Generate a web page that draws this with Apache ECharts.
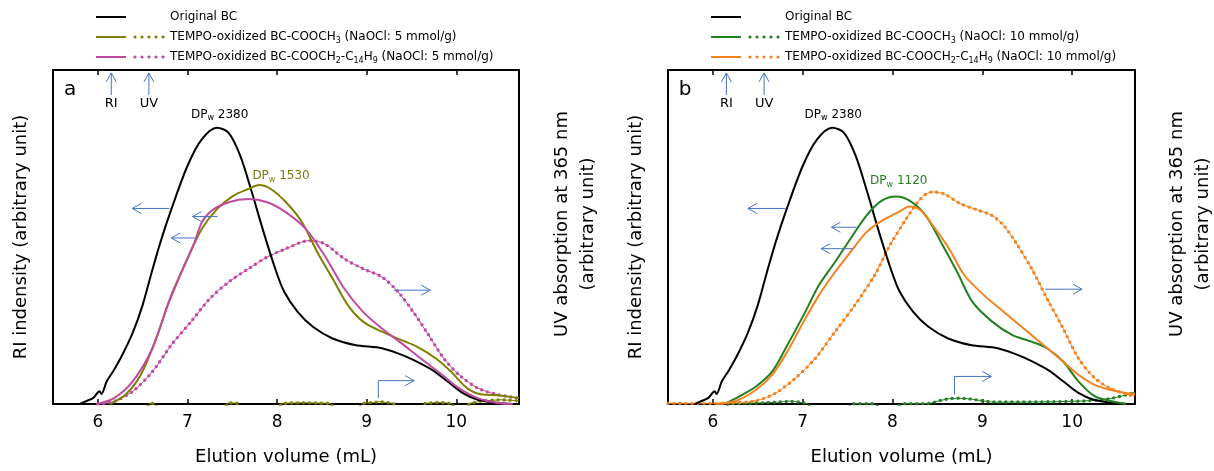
<!DOCTYPE html>
<html><head><meta charset="utf-8">
<script src="https://cdn.jsdelivr.net/npm/echarts@6/dist/echarts.min.js"></script>
<style>html,body{margin:0;padding:0;background:#fff}#c{width:1214px;height:471px}</style>
</head><body><div id="c"></div>
<script>
// ---------- DATA (x = elution volume mL, y = arbitrary intensity) ----------
const xMin = 5.5, xMax = 10.7, yMax = 103;
const origBC = [[5.80,0],[5.88,1.0],[5.95,1.9],[6.02,3.9],[6.04,3.1],[6.10,7.0],[6.18,10.5],[6.28,15.5],[6.39,22],[6.5,30.5],[6.6,40.5],[6.7,50],[6.82,60],[7.0,73.4],[7.16,81.6],[7.33,85.2],[7.46,83.6],[7.59,76.5],[7.72,65.2],[7.85,53],[7.98,41.7],[8.08,34.6],[8.23,28.4],[8.4,23.8],[8.62,20.2],[8.87,18.2],[9.17,17.2],[9.35,15.6],[9.52,13.6],[9.73,10.5],[9.9,7.0],[10.07,3.4],[10.24,1.3],[10.46,0.3],[10.63,0]];
// panel a (NaOCl 5 mmol/g)
const riMe5 = [[6.14,0],[6.31,2.9],[6.48,9],[6.65,20.2],[6.82,33.5],[7.0,44.8],[7.16,54],[7.33,60.1],[7.51,64.2],[7.68,66.3],[7.8,67.5],[7.93,66.3],[8.1,62.2],[8.28,56],[8.45,46.8],[8.62,38.7],[8.79,30.5],[8.96,25.4],[9.17,22.3],[9.39,19.7],[9.56,17.7],[9.77,14.1],[9.94,10],[10.12,4.9],[10.29,2.9],[10.46,2.7],[10.7,1.8]];
const riC14_5 = [[5.99,0],[6.18,1.8],[6.39,7],[6.61,17.2],[6.78,30.5],[6.95,41.7],[7.08,49.9],[7.16,56],[7.27,59.6],[7.46,62.2],[7.68,63.2],[7.89,62.2],[8.1,59.1],[8.32,54],[8.53,45.8],[8.75,35.6],[8.96,28.4],[9.17,23.3],[9.39,18.7],[9.6,14.1],[9.82,9.5],[10.03,4.9],[10.24,1.8],[10.46,0.3],[10.63,0]];
const uvC14_5 = [[6.0,0],[6.18,0.8],[6.39,3.9],[6.61,10],[6.82,18.2],[7.04,25.4],[7.25,32.5],[7.46,37.6],[7.68,41.7],[7.89,45.3],[8.1,47.9],[8.36,50.4],[8.53,49.4],[8.75,44.8],[8.96,41.7],[9.17,39.2],[9.35,34.6],[9.52,28.4],[9.69,21.3],[9.86,14.1],[10.03,9],[10.24,4.9],[10.46,2.9],[10.7,1.8]];
const uvMe5 = [[5.5,-1.2],[6.55,-1.2],[6.58,0.2],[6.63,0.2],[6.66,-1.2],[7.42,-1.2],[7.45,0.3],[7.55,0.3],[7.58,-1.2],[8.02,-1.2],[8.05,0.2],[8.3,0.4],[8.6,0.2],[8.63,-1.2],[8.92,-1.2],[8.95,0.2],[9.15,0.7],[9.3,0.2],[9.33,-1.2],[9.62,-1.2],[9.65,0.2],[9.8,0.5],[9.95,0.2],[9.98,-1.2],[10.1,-1.2],[10.15,0.2],[10.3,1.0],[10.5,1.3],[10.7,1.0]];
// panel b (NaOCl 10 mmol/g)
const riMe10 = [[6.13,0],[6.26,1.8],[6.35,3.2],[6.48,5.4],[6.66,10],[6.83,18.2],[7.01,27.4],[7.18,36.6],[7.36,43.8],[7.53,50.9],[7.71,58.1],[7.88,62.7],[8.04,64],[8.19,62.7],[8.37,58.1],[8.54,49.9],[8.72,40.7],[8.89,31.5],[9.11,25.4],[9.33,21.3],[9.55,19.2],[9.72,17.2],[9.9,13.1],[10.07,7],[10.25,2.4],[10.42,1],[10.6,0]];
const riC14_10 = [[6.04,0],[6.26,1],[6.48,4.4],[6.66,9],[6.83,16.2],[7.01,25.4],[7.18,33.5],[7.36,40.7],[7.53,46.8],[7.71,53],[7.88,56.5],[8.06,59.1],[8.19,60.9],[8.32,59.6],[8.45,55],[8.63,47.9],[8.8,39.7],[9.02,33.5],[9.24,28.4],[9.46,23.3],[9.68,18.2],[9.9,13.1],[10.07,9],[10.25,5.9],[10.42,4.4],[10.6,3.4],[10.7,3.1]];
const uvC14_10 = [[5.5,0.2],[5.8,0.2],[6.0,0.2],[6.18,0.3],[6.48,1],[6.7,3.4],[6.92,8],[7.14,14.1],[7.36,22.3],[7.58,30.5],[7.8,39.7],[7.97,48.9],[8.15,57],[8.28,62.2],[8.37,64.7],[8.45,65.4],[8.58,64.7],[8.76,61.7],[8.94,59.9],[9.11,58.1],[9.24,55],[9.37,49.9],[9.55,41.7],[9.72,32.5],[9.9,23.3],[10.07,14.1],[10.25,8],[10.42,4.9],[10.6,3.1],[10.7,2.4]];
const uvMe10 = [[5.5,-1.2],[6.15,-1.2],[6.2,0.1],[6.5,0.3],[6.75,0.6],[6.85,0.9],[6.95,0.6],[7.05,0.1],[7.1,-1.2],[7.52,-1.2],[7.55,0.1],[7.8,0.1],[7.85,-1.2],[8.05,-1.2],[8.1,0.1],[8.3,0.1],[8.42,0.2],[8.52,1.0],[8.62,1.6],[8.72,1.8],[8.85,1.6],[9.0,1.0],[9.1,0.6],[9.4,0.6],[9.8,0.7],[10.1,0.9],[10.3,1.2],[10.45,1.8],[10.6,2.8],[10.7,3.6]];
// annotations (data coordinates)
const arrowsA = [[[6.80,60.3],[6.385,60.3]],[[7.335,57.8],[7.057,57.8]],[[7.10,51.2],[6.82,51.2]],[[9.30,35.1],[9.71,35.1]],[[9.13,1.8],[9.13,7.2],[9.53,7.2]]];
const arrowsB = [[[6.81,60.3],[6.39,60.3]],[[7.60,54.5],[7.32,54.5]],[[7.555,47.9],[7.205,47.9]],[[9.70,35.4],[10.11,35.4]],[[8.69,2.9],[8.69,8.5],[9.10,8.5]]];
const detArrows = [{label:'RI', x:6.15},{label:'UV', x:6.57}];
const dpA = [{t:'2380', x:7.36, y:89.2, c:'#000'},{t:'1530', x:8.045, y:70.2, c:'#7a7a10'}];
const dpB = [{t:'2380', x:7.34, y:89.2, c:'#000'},{t:'1120', x:8.07, y:68.7, c:'#228022'}];

// ---------- STYLE ----------
const FONT = 'DejaVu Sans';
const C = {black:'#000', olive:'#808000', mag:'#c04aa0', green:'#228022', orange:'#f5821f', blue:'#4472c4'};
const grids = [{left:53, top:70, width:466, height:336, show:true, borderColor:'#000', borderWidth:2},
               {left:668, top:70, width:467, height:336, show:true, borderColor:'#000', borderWidth:2}];

function xAx(g, pos){
  const bottom = pos === 'bottom';
  return {type:'value', gridIndex:g, position:pos, min:xMin, max:xMax, minInterval:1, maxInterval:1,
    axisLine:{show:false}, splitLine:{show:false},
    axisTick:{show:true, inside:true, length:5, lineStyle:{color:'#000', width:1.5}},
    axisLabel:{show:bottom, showMinLabel:false, showMaxLabel:false, fontSize:17, color:'#000', fontFamily:FONT, margin:10},
    name: bottom ? 'Elution volume (mL)' : '', nameLocation:'middle', nameGap:44,
    nameTextStyle:{fontSize:18, color:'#000', fontFamily:FONT}};
}
function yAx(g){
  return {type:'value', gridIndex:g, min:0, max:yMax, axisLine:{show:false}, axisTick:{show:false},
    axisLabel:{show:false}, splitLine:{show:false},
    name:'RI indensity (arbitrary unit)', nameLocation:'middle', nameGap:23, nameRotate:90,
    nameTextStyle:{fontSize:18, color:'#000', fontFamily:FONT}};
}
function solid(name, data, color, g, w){
  return {name, type:'line', data, xAxisIndex:g, yAxisIndex:g, symbol:'none', smooth:0.3,
    lineStyle:{color, width:w||2}, z:3, silent:true};
}
function dotted(name, data, color, g, smooth){
  return [
    {name, type:'line', data, xAxisIndex:g, yAxisIndex:g, symbol:'none', smooth:smooth,
      lineStyle:{color, width:1}, z:2, silent:true},
    {name:name+' dots', type:'line', data, xAxisIndex:g, yAxisIndex:g, symbol:'none', smooth:smooth,
      lineStyle:{color, width:3.4, type:[0,6], cap:'round'}, z:2, silent:true}
  ];
}

const series = [
  solid('Original BC', origBC, C.black, 0),
  ...dotted('UV BC-COOCH3 5', uvMe5, C.olive, 0, false),
  ...dotted('UV BC-COOCH2-C14H9 5', uvC14_5, C.mag, 0, 0.3),
  solid('RI BC-COOCH3 5', riMe5, C.olive, 0),
  solid('RI BC-COOCH2-C14H9 5', riC14_5, C.mag, 0),
  solid('Original BC b', origBC, C.black, 1),
  ...dotted('UV BC-COOCH3 10', uvMe10, C.green, 1, false),
  ...dotted('UV BC-COOCH2-C14H9 10', uvC14_10, C.orange, 1, 0.3),
  solid('RI BC-COOCH3 10', riMe10, C.green, 1),
  solid('RI BC-COOCH2-C14H9 10', riC14_10, C.orange, 1)
];

const chart = echarts.init(document.getElementById('c'), null, {renderer:'canvas'});
chart.setOption({
  animation:false, backgroundColor:'#fff',
  grid: grids,
  xAxis: [xAx(0,'bottom'), xAx(1,'bottom'), xAx(0,'top'), xAx(1,'top')],
  yAxis: [yAx(0), yAx(1)],
  series
});

// ---------- GRAPHICS (legend, annotations, right titles) ----------
const g = [];
const subRich = {s:{fontSize:8, fontFamily:FONT, padding:[7,0,0,0], verticalAlign:'bottom'}};
function txt(x, y, text, opt){
  g.push({type:'text', x, y, z:10, style:Object.assign({text, fill:'#000', fontFamily:FONT, fontSize:12,
    align:'left', verticalAlign:'middle', rich:subRich}, opt||{})});
}
function seg(x1,y1,x2,y2,color,w,dash){
  const st = {stroke:color, lineWidth:w};
  if (dash){ st.lineDash = dash; st.lineCap = 'round'; }
  g.push({type:'line', z:10, shape:{x1,y1,x2,y2}, style:st});
}
function legend(x0, rows){
  rows.forEach((r,i)=>{
    const y = 17 + i*20;
    seg(x0, y, x0+30, y, r.c, 2);
    if (r.dots) seg(x0+39, y, x0+68, y, r.c, 3.2, [0,7]);
    txt(x0+74, y, r.t);
  });
}
legend(96, [
  {t:'Original BC', c:C.black},
  {t:'TEMPO-oxidized BC-COOCH{s|3} (NaOCl: 5 mmol/g)', c:C.olive, dots:true},
  {t:'TEMPO-oxidized BC-COOCH{s|2}-C{s|14}H{s|9} (NaOCl: 5 mmol/g)', c:C.mag, dots:true}
]);
legend(711, [
  {t:'Original BC', c:C.black},
  {t:'TEMPO-oxidized BC-COOCH{s|3} (NaOCl: 10 mmol/g)', c:C.green, dots:true},
  {t:'TEMPO-oxidized BC-COOCH{s|2}-C{s|14}H{s|9} (NaOCl: 10 mmol/g)', c:C.orange, dots:true}
]);

function arrowPath(pts, gi){
  const px = pts.map(p => chart.convertToPixel({gridIndex:gi}, p));
  g.push({type:'polyline', z:10, shape:{points:px}, style:{stroke:C.blue, lineWidth:1, fill:null}});
  const a = px[px.length-1], b = px[px.length-2];
  const ang = Math.atan2(a[1]-b[1], a[0]-b[0]);
  const L = 9, H = 5;
  const ux = Math.cos(ang), uy = Math.sin(ang);
  const p1 = [a[0]-ux*L - uy*H, a[1]-uy*L + ux*H];
  const p2 = [a[0]-ux*L + uy*H, a[1]-uy*L - ux*H];
  g.push({type:'polyline', z:10, shape:{points:[p1, a, p2]}, style:{stroke:C.blue, lineWidth:1, fill:null}});
}
[arrowsA, arrowsB].forEach((arr, gi)=> arr.forEach(p => arrowPath(p, gi)));
[0,1].forEach(gi=>{
  detArrows.forEach(d=>{
    arrowPath([[d.x, 95.3],[d.x, 102.1]], gi);
    const p = chart.convertToPixel({gridIndex:gi}, [d.x, 92.6]);
    txt(p[0], p[1], d.label, {align:'center', fontSize:13});
  });
  const pl = chart.convertToPixel({gridIndex:gi}, [5.69, 96.9]);
  txt(pl[0], pl[1], gi===0 ? 'a' : 'b', {align:'center', fontSize:20});
  (gi===0 ? dpA : dpB).forEach(d=>{
    const p = chart.convertToPixel({gridIndex:gi}, [d.x, d.y]);
    txt(p[0], p[1], 'DP{s|w} ' + d.t, {align:'center', fill:d.c, fontSize:12,
      rich:{s:{fontSize:8, fontFamily:FONT, fill:d.c, padding:[7,0,0,0], verticalAlign:'bottom'}}});
  });
  const xr = gi===0 ? 562 : 1177;
  g.push({type:'text', x:xr, y:224, rotation:Math.PI/2, z:10,
    style:{text:'UV absorption at 365 nm', fill:'#000', fontFamily:FONT, fontSize:18, align:'center', verticalAlign:'middle'}});
  g.push({type:'text', x:xr+26, y:224, rotation:Math.PI/2, z:10,
    style:{text:'(arbitrary unit)', fill:'#000', fontFamily:FONT, fontSize:18, align:'center', verticalAlign:'middle'}});
});
chart.setOption({graphic:g});
</script></body></html>
